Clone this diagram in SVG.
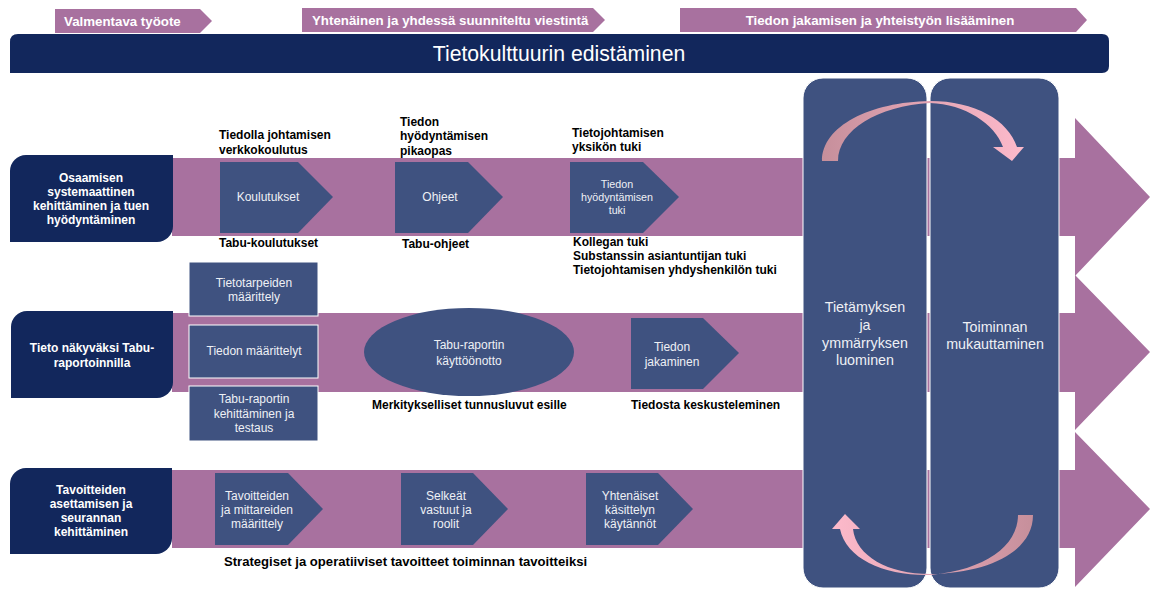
<svg xmlns="http://www.w3.org/2000/svg" width="1155" height="590" viewBox="0 0 1155 590">
<style>
.band{fill:#a8719f}
.navy{fill:#12275c}
.slate{fill:#3f5280}
.box{fill:#3f5280;stroke:#ffffff;stroke-width:1}
.col{fill:#3f5280;stroke:#ffffff;stroke-width:1}
.ban{fill:#a8719f}
text{font-family:"Liberation Sans",Arial,sans-serif}
.bt{font-size:13.3px;font-weight:bold;fill:#ffffff}
.lt{font-size:12px;font-weight:bold;fill:#ffffff;text-anchor:middle}
.ct{font-size:12px;fill:#eef0f5;text-anchor:middle}
.cs{font-size:10.7px;fill:#eef0f5;text-anchor:middle}
.lab{font-size:12px;font-weight:bold;fill:#000000}
.big{font-size:13.1px}
.rt{font-size:14.3px;fill:#eef0f5;text-anchor:middle}
</style>
<defs>
<linearGradient id="gTop" x1="822" y1="0" x2="1024" y2="0" gradientUnits="userSpaceOnUse">
<stop offset="0" stop-color="#c68f9b"/><stop offset="0.5" stop-color="#e3a5b4"/><stop offset="1" stop-color="#fdbacb"/>
</linearGradient>
<linearGradient id="gBot" x1="1033" y1="0" x2="832" y2="0" gradientUnits="userSpaceOnUse">
<stop offset="0" stop-color="#c68f9b"/><stop offset="0.5" stop-color="#e3a5b4"/><stop offset="1" stop-color="#fdbacb"/>
</linearGradient>
</defs>

<g id="banners">
<polygon class="ban" points="55,9 200,9 212,21 200,33 55,33"/>
<text class="bt" x="64" y="26">Valmentava työote</text>
<polygon class="ban" points="302,8 593,8 605,20 593,32 302,32"/>
<text class="bt" x="312" y="25">Yhtenäinen ja yhdessä suunniteltu viestintä</text>
<polygon class="ban" points="680,8 1076,8 1087,20 1076,32 680,32"/>
<text class="bt" x="880" y="25" text-anchor="middle">Tiedon jakamisen ja yhteistyön lisääminen</text>
</g>

<g id="title">
<path class="navy" d="M18,34 H1102 Q1109,34 1109,41 V66 Q1109,73 1102,73 H10 V42 Q10,34 18,34 Z"/>
<text x="559" y="61" font-size="21.2" fill="#ffffff" text-anchor="middle">Tietokulttuurin edistäminen</text>
</g>

<g id="bands">
<polygon class="band" points="172,158 1075,158 1075,118 1150,197 1075,276 1075,236 172,236"/>
<polygon class="band" points="172,313 1075,313 1075,275 1150,352 1075,430 1075,392 172,392"/>
<polygon class="band" points="172,470 1075,470 1075,432 1150,509 1075,587 1075,548 172,548"/>
</g>

<g id="row1-label">
<path class="navy" d="M26,155 H173 V226 A16,16 0 0 1 157,242 H10 V171 A16,16 0 0 1 26,155 Z"/>
<text class="lt" x="91" y="182">Osaamisen</text>
<text class="lt" x="91" y="196">systemaattinen</text>
<text class="lt" x="91" y="210">kehittäminen ja tuen</text>
<text class="lt" x="91" y="224">hyödyntäminen</text>
</g>
<g id="row2-label">
<path class="navy" d="M27,311 H173 V382 A16,16 0 0 1 157,398 H11 V327 A16,16 0 0 1 27,311 Z"/>
<text class="lt" x="92" y="352">Tieto näkyväksi Tabu-</text>
<text class="lt" x="92" y="367">raportoinnilla</text>
</g>
<g id="row3-label">
<path class="navy" d="M26,468 H172 V538 A16,16 0 0 1 156,554 H10 V484 A16,16 0 0 1 26,468 Z"/>
<text class="lt" x="91" y="494">Tavoitteiden</text>
<text class="lt" x="91" y="508">asettamisen ja</text>
<text class="lt" x="91" y="522">seurannan</text>
<text class="lt" x="91" y="536">kehittäminen</text>
</g>

<g id="koulutukset">
<polygon class="slate" points="220,162 298,162 333,197 298,233 220,233"/>
<text class="ct" x="268" y="201">Koulutukset</text>
<text class="lab" x="219" y="139">Tiedolla johtamisen</text>
<text class="lab" x="219" y="154">verkkokoulutus</text>
<text class="lab" x="219" y="247">Tabu-koulutukset</text>
</g>
<g id="ohjeet">
<polygon class="slate" points="395,162 468,162 503,197 468,233 395,233"/>
<text class="ct" x="440" y="201">Ohjeet</text>
<text class="lab" x="400" y="126">Tiedon</text>
<text class="lab" x="400" y="140">hyödyntämisen</text>
<text class="lab" x="400" y="155">pikaopas</text>
<text class="lab" x="402" y="248">Tabu-ohjeet</text>
</g>
<g id="tuki">
<polygon class="slate" points="570,162 643,162 679,197 643,233 570,233"/>
<text class="cs" x="617" y="188">Tiedon</text>
<text class="cs" x="617" y="201">hyödyntämisen</text>
<text class="cs" x="617" y="214">tuki</text>
<text class="lab" x="572" y="137">Tietojohtamisen</text>
<text class="lab" x="572" y="151">yksikön tuki</text>
<text class="lab" x="573" y="246">Kollegan tuki</text>
<text class="lab" x="573" y="260">Substanssin asiantuntijan tuki</text>
<text class="lab" x="573" y="274">Tietojohtamisen yhdyshenkilön tuki</text>
</g>

<g id="tietotarpeet">
<rect class="box" x="189" y="262" width="129" height="54"/>
<text class="ct" x="254" y="287">Tietotarpeiden</text>
<text class="ct" x="254" y="301">määrittely</text>
</g>
<g id="maarittelyt">
<rect class="box" x="189" y="325" width="129" height="53"/>
<text class="ct" x="254" y="355">Tiedon määrittelyt</text>
</g>
<g id="kehittaminen">
<rect class="box" x="189" y="386" width="129" height="55"/>
<text class="ct" x="254" y="403">Tabu-raportin</text>
<text class="ct" x="254" y="418">kehittäminen ja</text>
<text class="ct" x="254" y="432">testaus</text>
</g>
<g id="kayttoonotto">
<ellipse class="slate" cx="469" cy="352" rx="105" ry="44"/>
<text class="ct" x="469" y="349">Tabu-raportin</text>
<text class="ct" x="469" y="365">käyttöönotto</text>
<text class="lab" x="372" y="409">Merkitykselliset tunnusluvut esille</text>
</g>
<g id="jakaminen">
<polygon class="slate" points="631,318 703,318 739,353 703,389 631,389"/>
<text class="ct" x="672" y="351">Tiedon</text>
<text class="ct" x="672" y="366">jakaminen</text>
<text class="lab" x="631" y="409">Tiedosta keskusteleminen</text>
</g>

<g id="tavoitteet">
<polygon class="slate" points="215,473 288,473 323,509 288,545 215,545"/>
<text class="ct" x="257" y="500">Tavoitteiden</text>
<text class="ct" x="257" y="514">ja mittareiden</text>
<text class="ct" x="257" y="528">määrittely</text>
<text class="lab big" x="224" y="566">Strategiset ja operatiiviset tavoitteet toiminnan tavoitteiksi</text>
</g>
<g id="vastuut">
<polygon class="slate" points="401,473 473,473 508,509 473,545 401,545"/>
<text class="ct" x="446" y="500">Selkeät</text>
<text class="ct" x="446" y="514">vastuut ja</text>
<text class="ct" x="446" y="528">roolit</text>
</g>
<g id="kaytannot">
<polygon class="slate" points="586,473 658,473 693,509 658,545 586,545"/>
<text class="ct" x="630" y="500">Yhtenäiset</text>
<text class="ct" x="630" y="514">käsittelyn</text>
<text class="ct" x="630" y="528">käytännöt</text>
</g>

<g id="col-left">
<rect class="col" x="803" y="78" width="124" height="510" rx="20"/>
<text class="rt" x="865" y="312">Tietämyksen</text>
<text class="rt" x="865" y="330">ja</text>
<text class="rt" x="865" y="348">ymmärryksen</text>
<text class="rt" x="865" y="365">luominen</text>
</g>
<g id="col-right">
<rect class="col" x="930" y="78" width="129" height="510" rx="20"/>
<text class="rt" x="995" y="332">Toiminnan</text>
<text class="rt" x="995" y="349">mukauttaminen</text>
</g>

<g id="connectors">
<path fill="url(#gTop)" d="M822,161 C822,126 870,102 930,101 C975,101 1008,120 1017,147 L1024,147 L1012,161 L993,147 L1003,147 C995,124 965,104 930,103 C878,106 838,130 838,161 Z"/>
<path fill="url(#gBot)" d="M1033,515 C1033,552 988,573 930,574 C888,574 856,556 853,529 L860,529 L845,514 L832,529 L840,529 C846,559 885,576 930,575 C985,570 1018,546 1018,515 Z"/>
</g>
</svg>
